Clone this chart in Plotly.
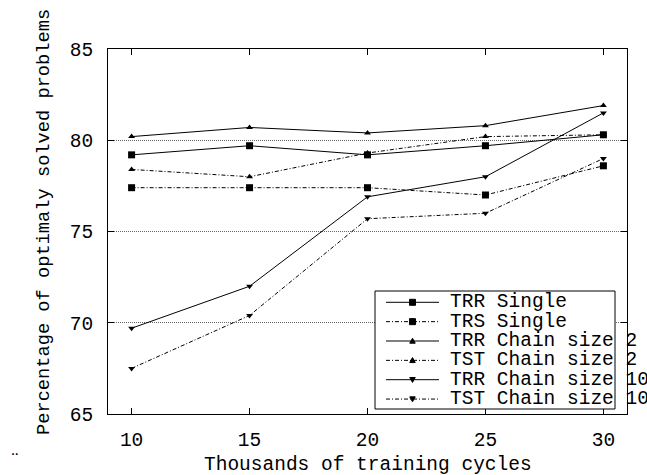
import plotly.graph_objects as go

# ---- data ----
cycles = [10, 15, 20, 25, 30]
trr_single = [79.2, 79.7, 79.2, 79.7, 80.3]
trs_single = [77.4, 77.4, 77.4, 77.0, 78.6]
trr_chain2 = [80.2, 80.7, 80.4, 80.8, 81.9]
tst_chain2 = [78.4, 78.0, 79.3, 80.2, 80.3]
trr_chain10 = [69.7, 72.0, 76.9, 78.0, 81.5]
tst_chain10 = [67.5, 70.4, 75.7, 76.0, 79.0]
series_names = ["TRR Single", "TRS Single", "TRR Chain size 2",
                "TST Chain size 2", "TRR Chain size 10", "TST Chain size 10"]
y_ticks = [65, 70, 75, 80, 85]
x_ticks = [10, 15, 20, 25, 30]

# ---- layout geometry (pixels) ----
W, H = 647, 475
L, R, T, B = 108, 627, 49, 414
FONT = "Liberation Mono"
FS = 19.5
FS_Y = 18.7
DASHDOT = "4px,2px,1px,2px"

series = [trr_single, trs_single, trr_chain2, tst_chain2, trr_chain10, tst_chain10]
styles = [
    ("solid", "square", 7),
    (DASHDOT, "square", 7),
    ("solid", "triangle-up", 6),
    (DASHDOT, "triangle-up", 6),
    ("solid", "triangle-down", 6),
    (DASHDOT, "triangle-down", 6),
]

fig = go.Figure()
for name, vals, (dash, sym, sz) in zip(series_names, series, styles):
    fig.add_trace(go.Scatter(
        x=cycles, y=vals, name=name, mode="lines+markers",
        line=dict(color="black", width=1, dash=dash),
        marker=dict(symbol=sym, size=sz, color="black"),
        cliponaxis=False, showlegend=False,
    ))

def px(xp):
    return (xp - L) / (R - L)

def py(yp):
    return (B - yp) / (B - T)

# ---- manual legend (gnuplot style key) ----
BOX_L, BOX_R, BOX_T, BOX_B = 375, 615, 291, 409
fig.add_shape(type="rect", xref="paper", yref="paper",
              x0=px(BOX_L), x1=px(BOX_R), y0=py(BOX_B), y1=py(BOX_T),
              line=dict(color="black", width=1), fillcolor="white", layer="above")
row0, rowh = 302.3, 19.35
SAMPLE_L, SAMPLE_R, SAMPLE_M, TEXT_X = 386, 439, 412.5, 448

def marker_path(sym, cx, cy, s):
    h = s / 2.0
    if sym == "square":
        pts = [(cx - h, cy - h), (cx + h, cy - h), (cx + h, cy + h), (cx - h, cy + h)]
    elif sym == "triangle-up":
        pts = [(cx - h, cy + h * 0.8), (cx + h, cy + h * 0.8), (cx, cy - h)]
    else:
        pts = [(cx - h, cy - h * 0.8), (cx + h, cy - h * 0.8), (cx, cy + h)]
    return "M " + " L ".join(f"{px(a):.5f},{py(b):.5f}" for a, b in pts) + " Z"

for i, (name, (dash, sym, sz)) in enumerate(zip(series_names, styles)):
    yc = row0 + rowh * i
    fig.add_shape(type="line", xref="paper", yref="paper",
                  x0=px(SAMPLE_L), x1=px(SAMPLE_R), y0=py(yc), y1=py(yc),
                  line=dict(color="black", width=1, dash=dash), layer="above")
    fig.add_shape(type="path", xref="paper", yref="paper",
                  path=marker_path(sym, SAMPLE_M, yc, sz - 1 if sym == "square" else sz - 0.5),
                  line=dict(color="black", width=1), fillcolor="black", layer="above")
    fig.add_annotation(text=name, xref="paper", yref="paper",
                       x=px(TEXT_X), y=py(yc), xanchor="left", yanchor="middle",
                       showarrow=False, font=dict(family=FONT, size=FS, color="black"))

# axis titles as annotations (positioned like the original)
fig.add_annotation(text="Thousands of training cycles", xref="paper", yref="paper",
                   x=px(368), y=py(465), xanchor="center", yanchor="middle",
                   showarrow=False, font=dict(family=FONT, size=FS, color="black"))
fig.add_annotation(text="Percentage of optimaly solved problems", xref="paper", yref="paper",
                   x=px(44), y=py(222), xanchor="center", yanchor="middle", textangle=-90,
                   showarrow=False, font=dict(family=FONT, size=FS_Y, color="black"))
fig.add_annotation(text="¨", xref="paper", yref="paper",
                   x=px(15), y=py(462), xanchor="center", yanchor="middle",
                   showarrow=False, font=dict(family=FONT, size=FS, color="black"))

axis_common = dict(
    showline=True, linecolor="black", linewidth=1, mirror="ticks",
    ticks="inside", ticklen=6, tickwidth=1, tickcolor="black",
    tickfont=dict(family=FONT, size=FS, color="black"),
    zeroline=False,
)
fig.update_layout(
    width=W, height=H,
    margin=dict(l=L, r=W - R, t=T, b=H - B, pad=0),
    paper_bgcolor="white", plot_bgcolor="white",
    showlegend=False,
    xaxis=dict(range=[9, 31], tickvals=x_ticks, showgrid=False,
               ticklabelstandoff=8, **axis_common),
    yaxis=dict(range=[65, 85], tickvals=y_ticks, showgrid=True,
               gridcolor="#666666", griddash="1px,1px", gridwidth=1,
               ticklabelstandoff=10, **axis_common),
)
fig.write_html("out.html")
